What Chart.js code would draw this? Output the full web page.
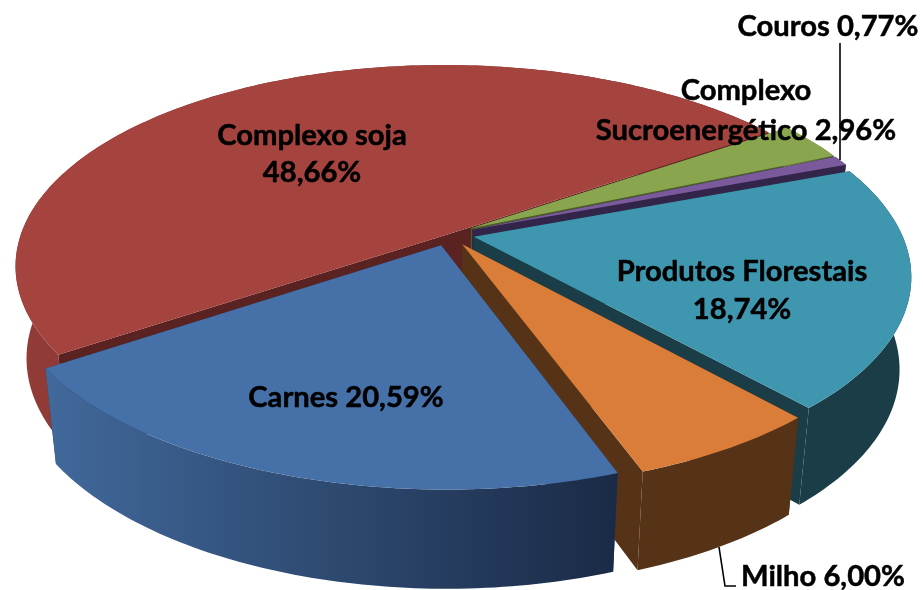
<!DOCTYPE html>
<html>
<head>
<meta charset="utf-8">
<style>html,body{margin:0;padding:0;background:#fff}#wrap{width:923px;height:590px}</style>
<script src="https://cdn.jsdelivr.net/npm/chart.js@4"></script>
</head>
<body>
<div id="wrap"><canvas id="c" width="923" height="590"></canvas></div>
<script>
// Data (clockwise order)
const categories = ['Complexo soja','Complexo Sucroenergético','Couros','Produtos Florestais','Milho','Carnes'];
const values = [48.66, 2.96, 0.77, 18.74, 6.00, 20.59];
const topColors = ['#A5433F','#89A54E','#7B5A9B','#3F96AF','#D97D39','#4670A8'];
const cutColors = ['#5A2220','#4C5C2A','#33254A','#1A3D48','#563316','#22385A'];
const wallStops = [['#933C38','#5A2220'],['#6E853E','#4C5C2A'],['#33254A','#33254A'],['#1A3D48','#1A3D48'],['#563316','#563316'],['#41699B','#1A2A46']];
const explode = [0,17,17,17,17,17];
const labelLines = [['Complexo soja','48,66%'],['Complexo','Sucroenergético 2,96%'],['Couros 0,77%'],['Produtos Florestais','18,74%'],['Milho 6,00%'],['Carnes 20,59%']];

// Layout
const drawOrder = [0,1,2,3,4,5];
const view = {cx:449, cy:234, a:428, b:198, k:0.172, shear:0.03, vx:449};
const labelPos = [[312,145],[746,100],[828,36],[742,281],[823,586],[346,407]];
const lineGap = [37,40,0,38,0,0];
const FONT = 'bold 29.2px Lato, Carlito, sans-serif';
const leaders = [[[840,43],[840,160]],[[719,547],[725,586],[736,586]]];

function project(X,Y){
  const w = 1 - view.k*Y;
  const py = view.b*Y/w;
  return [view.cx + view.a*X/w + view.shear*py, view.cy + py];
}
function drop(p){
  const h = 92 + (p[1]-250)*0.03;
  return [p[0] + (view.vx-p[0])*h/3650, p[1]+h];
}
function sliceGeom(el){
  const R = el.outerRadius, d = (el.options.offset||0)/R;
  const mid = (el.startAngle+el.endAngle)/2;
  const ox = d*Math.cos(mid), oy = d*Math.sin(mid);
  const n = Math.max(2, Math.ceil((el.endAngle-el.startAngle)/(Math.PI/180)));
  const rim = [];
  for(let i=0;i<=n;i++){
    const t = el.startAngle + (el.endAngle-el.startAngle)*i/n;
    rim.push(project(ox+Math.cos(t), oy+Math.sin(t)));
  }
  return {apex:project(ox,oy), rim};
}
function poly(ctx,pts,fill){
  ctx.beginPath();
  pts.forEach((p,i)=> i? ctx.lineTo(p[0],p[1]) : ctx.moveTo(p[0],p[1]));
  ctx.closePath();
  ctx.fillStyle = fill;
  ctx.fill();
}
const pie3d = {
  id:'pie3d',
  beforeDatasetsDraw(chart){
    const ctx = chart.ctx, arcs = chart.getDatasetMeta(0).data;
    ctx.save();
    drawOrder.forEach(i=>{
      const g = sliceGeom(arcs[i]);
      const first = g.rim[0], last = g.rim[g.rim.length-1];
      poly(ctx,[g.apex,first,drop(first),drop(g.apex)],cutColors[i]);
      poly(ctx,[g.apex,last,drop(last),drop(g.apex)],cutColors[i]);
      const xs = g.rim.map(p=>p[0]);
      const grad = ctx.createLinearGradient(Math.min(...xs),0,Math.max(...xs),0);
      grad.addColorStop(0,wallStops[i][0]);
      grad.addColorStop(1,wallStops[i][1]);
      poly(ctx,g.rim.concat(g.rim.slice().reverse().map(drop)),grad);
      poly(ctx,[g.apex].concat(g.rim),topColors[i]);
    });
    ctx.restore();
    return false;
  },
  afterDraw(chart){
    const ctx = chart.ctx;
    ctx.save();
    ctx.strokeStyle = '#000'; ctx.lineWidth = 1.6;
    leaders.forEach(l=>{
      ctx.beginPath();
      l.forEach((p,i)=> i? ctx.lineTo(p[0],p[1]) : ctx.moveTo(p[0],p[1]));
      ctx.stroke();
    });
    ctx.font = FONT; ctx.fillStyle = '#000';
    ctx.textAlign = 'center'; ctx.textBaseline = 'alphabetic';
    ctx.lineWidth = 0.5; ctx.lineJoin = 'round';
    labelLines.forEach((lines,i)=>{
      lines.forEach((t,j)=>{
        ctx.fillText(t,labelPos[i][0],labelPos[i][1]+j*lineGap[i]);
        ctx.strokeText(t,labelPos[i][0],labelPos[i][1]+j*lineGap[i]);
      });
    });
    ctx.restore();
  }
};
new Chart(document.getElementById('c'),{
  type:'pie',
  data:{labels:categories,datasets:[{data:values,backgroundColor:topColors,offset:explode,borderWidth:0}]},
  options:{
    responsive:false,animation:false,rotation:236.5,
    layout:{padding:0},
    plugins:{legend:{display:false},tooltip:{enabled:false},title:{display:false}}
  },
  plugins:[pie3d]
});
</script>
</body>
</html>
